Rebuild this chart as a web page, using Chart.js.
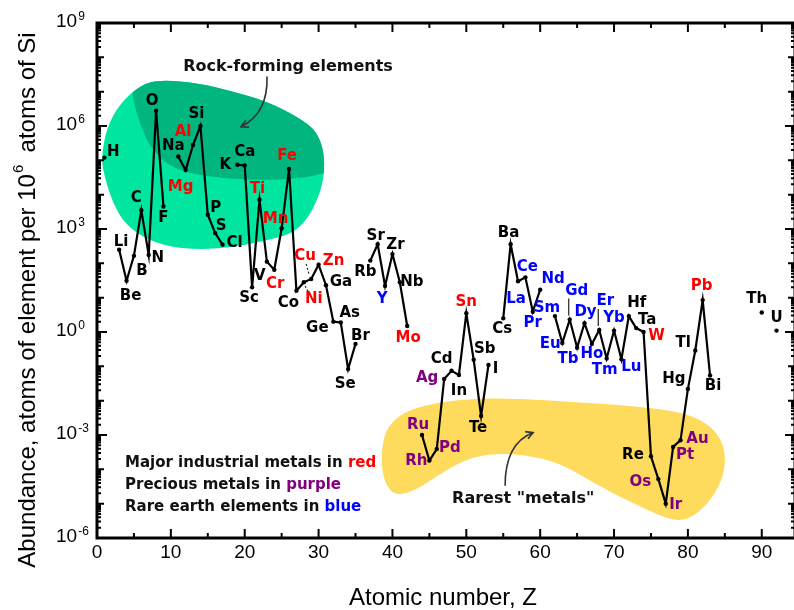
<!DOCTYPE html>
<html>
<head>
<meta charset="utf-8">
<script src="https://cdn.jsdelivr.net/npm/chart.js@4/dist/chart.umd.min.js"></script>
<style>
html, body { margin: 0; padding: 0; background: #fff; overflow: hidden; }
canvas { display: block; }
</style>
</head>
<body>
<canvas id="abundance-chart" width="800" height="610"></canvas>
<script>
// elements Z = 1..92, null = not plotted (noble gases, unstable elements)
const elements = ['H','He','Li','Be','B','C','N','O','F','Ne','Na','Mg','Al','Si','P','S','Cl','Ar','K','Ca',
  'Sc','Ti','V','Cr','Mn','Fe','Co','Ni','Cu','Zn','Ga','Ge','As','Se','Br','Kr','Rb','Sr','Y','Zr',
  'Nb','Mo','Tc','Ru','Rh','Pd','Ag','Cd','In','Sn','Sb','Te','I','Xe','Cs','Ba','La','Ce','Pr','Nd',
  'Pm','Sm','Eu','Gd','Tb','Dy','Ho','Er','Tm','Yb','Lu','Hf','Ta','W','Re','Os','Ir','Pt','Au','Hg',
  'Tl','Pb','Bi','Po','At','Rn','Fr','Ra','Ac','Th','Pa','U'];

// atoms per 10^6 atoms of Si
const abundances = [1.2e5, null, 250, 31, 165, 3500, 175, 2.8e6, 4500, null,
  1.3e5, 5.2e4, 2.8e5, 1.0e6, 2600, 760, 350, null, 7.4e4, 7.1e4,
  20, 7100, 112, 65, 1050, 5.6e4, 16, 28, 35, 91,
  23, 2.0, 1.9, 0.083, 0.45, null, 120, 360, 22, 186,
  28, 1.5, null, 1.0e-3, 1.8e-4, 3.9e-4, 0.043, 0.074, 0.056, 3.5,
  0.155, 0.0036, 0.11, null, 2.5, 360, 30, 39, 3.9, 17,
  null, 2.9, 0.48, 2.3, 0.35, 1.8, 0.45, 1.15, 0.17, 1.1,
  0.16, 2.9, 1.3, 1.0, 2.4e-4, 5.2e-5, 1.0e-5, 4.5e-4, 7.0e-4, 0.022,
  0.29, 8.5, 0.054, null, null, null, null, null, null, 3.7,
  null, 1.1];

const industrialMetals = ['Mg','Al','Ti','Cr','Mn','Fe','Ni','Cu','Zn','Mo','Sn','W','Pb'];
const preciousMetals = ['Ru','Rh','Pd','Ag','Os','Ir','Pt','Au'];
const rareEarths = ['Y','La','Ce','Pr','Nd','Sm','Eu','Gd','Tb','Dy','Ho','Er','Tm','Yb','Lu'];

const xTicks = [0, 10, 20, 30, 40, 50, 60, 70, 80, 90];
const yTickExponents = [-6, -3, 0, 3, 6, 9];

const COLORS = { black: '#000000', red: '#ff0000', purple: '#800080', blue: '#0000ff' };
const LABEL_FONT = 'bold 15px "DejaVu Sans"';
const AXIS_FONT = '"Liberation Sans", Arial, sans-serif';

// label position relative to the point, px
const labelOffsets = {
  H:[9,-6], Li:[2,-8], Be:[4,15], B:[8,15], C:[-5,-12], N:[9,3], O:[-4,-10], F:[0,12],
  Na:[-5,-10], Mg:[-5,17], Al:[-10,-13], Si:[-4,-12], P:[8,-7], S:[6,-7], Cl:[12,-2],
  K:[-12,0], Ca:[0,-13], Sc:[-3,11], Ti:[-2,-11], V:[-7,14], Cr:[1,14], Mn:[-6,-9], Fe:[-2,-13],
  Co:[-8,12], Ni:[10,17], Cu:[-6,-23], Zn:[15,-4], Ga:[15,-3], Ge:[-16,6], As:[9,-9], Se:[-3,15], Br:[5,-8],
  Rb:[-5,11], Sr:[-2,-8], Y:[-3,13], Zr:[3,-9], Nb:[12,0], Mo:[1,12],
  Ru:[-4,-10], Rh:[-13,1], Pd:[13,-1], Ag:[-17,-1], Cd:[-10,-12], In:[0,16], Sn:[0,-11], Sb:[11,-11],
  Te:[-3,12], I:[7,4], Cs:[-1,11], Ba:[-2,-11], La:[-2,18], Ce:[2,-10], Pr:[0,11], Nd:[13,-11],
  Sm:[-8,-8], Eu:[-12,1], Gd:[7,-28], Tb:[-9,11], Dy:[1,-11], Ho:[0,10], Er:[6,-29], Tm:[-2,12],
  Yb:[0,-12], Lu:[10,8], Hf:[8,-13], Ta:[11,-8], W:[13,4], Re:[-18,-1], Os:[-18,3], Ir:[10,1],
  Pt:[12,8], Au:[17,-1], Hg:[-14,-10], Tl:[-12,-7], Pb:[-1,-14], Bi:[3,11], Th:[-5,-13], U:[0,-12]
};
// little leader lines [x1,y1,x2,y2,dashed] relative to the point
const leaders = { Gd:[-1,-21,-1,-4,false], Er:[-1,-21,-1,-4,false], Cu:[-5,-15,-2,-4,true], Ni:[4,9,1,3,true] };

// shaded regions, [Z, log10 abundance]
const rockLight = [[0.54,5.05],[1.08,4.47],[2.17,3.74],[3.79,3.15],[6.5,2.72],[9.89,2.48],[13.95,2.4],
  [18.69,2.48],[24.1,2.72],[26.81,2.92],[28.84,3.39],[30.6,4.26],[30.87,5.14],[29.79,5.84],[27.49,6.22],
  [23.02,6.72],[18.42,7.0],[13.95,7.24],[8.53,7.35],[5.82,7.18],[3.11,6.65],[1.35,5.98]];
const rockDark = [[4.47,8.2],[4.6,7.4],[4.87,6.8],[5.82,6.01],[7.58,5.25],[10.29,4.76],[14.9,4.52],
  [22.07,4.41],[27.49,4.48],[30.47,4.6],[33,4.76],[34,8.2]];
const rarestZone = [[38.73,-3.11],[39.67,-2.67],[41.7,-2.32],[45.09,-2.09],[50.51,-1.94],[57.28,-1.94],
  [64.05,-2.03],[72.17,-2.15],[78.94,-2.32],[82.33,-2.61],[84.36,-3.05],[85.17,-3.63],[84.63,-4.33],
  [82.74,-5.0],[80.3,-5.44],[77.86,-5.5],[73.53,-5.09],[68.11,-4.51],[62.69,-3.81],[57.28,-3.55],
  [52.81,-3.55],[49.56,-3.75],[46.04,-4.19],[43.06,-4.62],[40.35,-4.77],[39.0,-4.42],[38.46,-3.84]];

const points = elements.map((sym, i) => ({ x: i + 1, y: abundances[i] }));

function labelColor(sym) {
  if (industrialMetals.includes(sym)) return COLORS.red;
  if (preciousMetals.includes(sym)) return COLORS.purple;
  if (rareEarths.includes(sym)) return COLORS.blue;
  return COLORS.black;
}

function smoothPath(ctx, pts) {
  const n = pts.length;
  const mid = (a, b) => [(a[0] + b[0]) / 2, (a[1] + b[1]) / 2];
  let m = mid(pts[n - 1], pts[0]);
  ctx.moveTo(m[0], m[1]);
  for (let i = 0; i < n; i++) {
    const next = mid(pts[i], pts[(i + 1) % n]);
    ctx.quadraticCurveTo(pts[i][0], pts[i][1], next[0], next[1]);
  }
  ctx.closePath();
}

function curvedArrow(ctx, p0, c, p1) {
  ctx.save();
  ctx.strokeStyle = '#333';
  ctx.lineWidth = 1.6;
  ctx.beginPath();
  ctx.moveTo(p0[0], p0[1]);
  ctx.quadraticCurveTo(c[0], c[1], p1[0], p1[1]);
  ctx.stroke();
  const ang = Math.atan2(p1[1] - c[1], p1[0] - c[0]);
  ctx.beginPath();
  ctx.moveTo(p1[0] - 8 * Math.cos(ang - 0.5), p1[1] - 8 * Math.sin(ang - 0.5));
  ctx.lineTo(p1[0], p1[1]);
  ctx.lineTo(p1[0] - 8 * Math.cos(ang + 0.5), p1[1] - 8 * Math.sin(ang + 0.5));
  ctx.stroke();
  ctx.restore();
}

function coloredLine(ctx, parts, x, y) {
  parts.forEach(([txt, col]) => {
    ctx.fillStyle = col;
    ctx.fillText(txt, x, y);
    x += ctx.measureText(txt).width;
  });
}

const decor = {
  id: 'decor',
  beforeDatasetsDraw(chart) {
    const { ctx, scales: { x, y } } = chart;
    const px = ([z, lg]) => [x.getPixelForValue(z), y.getPixelForValue(Math.pow(10, lg))];
    ctx.save();
    ctx.beginPath();
    smoothPath(ctx, rockLight.map(px));
    ctx.fillStyle = '#00e6a0';
    ctx.fill();
    ctx.clip();
    ctx.beginPath();
    smoothPath(ctx, rockDark.map(px));
    ctx.fillStyle = '#00b67e';
    ctx.fill();
    ctx.restore();

    ctx.save();
    ctx.beginPath();
    smoothPath(ctx, rarestZone.map(px));
    ctx.fillStyle = '#fedb5c';
    ctx.fill();
    ctx.restore();
  },
  afterDatasetsDraw(chart) {
    const { ctx, chartArea: a, scales: { x, y } } = chart;
    const px = (z, lg) => [x.getPixelForValue(z), y.getPixelForValue(Math.pow(10, lg))];
    ctx.save();

    // element labels
    ctx.font = LABEL_FONT;
    ctx.textAlign = 'center';
    ctx.textBaseline = 'middle';
    elements.forEach((sym, i) => {
      if (abundances[i] === null) return;
      const cx = x.getPixelForValue(i + 1);
      const cy = y.getPixelForValue(abundances[i]);
      const off = labelOffsets[sym] || [0, -12];
      ctx.fillStyle = labelColor(sym);
      ctx.fillText(sym, cx + off[0], cy + off[1]);
      const ld = leaders[sym];
      if (ld) {
        ctx.save();
        ctx.strokeStyle = '#222';
        ctx.lineWidth = 1.2;
        if (ld[4]) ctx.setLineDash([2, 2]);
        ctx.beginPath();
        ctx.moveTo(cx + ld[0], cy + ld[1]);
        ctx.lineTo(cx + ld[2], cy + ld[3]);
        ctx.stroke();
        ctx.restore();
      }
    });

    // annotations
    ctx.font = 'bold 16px "DejaVu Sans"';
    ctx.fillStyle = '#111';
    let t = px(25.86, 7.73);
    ctx.fillText('Rock-forming elements', t[0], t[1]);
    curvedArrow(ctx, px(23.02, 7.44), px(23.16, 6.36), px(19.5, 5.98));
    t = px(57.7, -4.86);
    ctx.fillText('Rarest "metals"', t[0], t[1]);
    curvedArrow(ctx, px(55.25, -4.48), px(55.25, -3.25), px(59.04, -2.93));

    // colour key
    ctx.font = 'bold 15px "DejaVu Sans"';
    ctx.textAlign = 'left';
    coloredLine(ctx, [['Major industrial metals in ', '#111'], ['red', COLORS.red]], 125, 463);
    coloredLine(ctx, [['Precious metals in ', '#111'], ['purple', COLORS.purple]], 125, 485);
    coloredLine(ctx, [['Rare earth elements in ', '#111'], ['blue', COLORS.blue]], 125, 507);
    ctx.restore();
  },
  afterDraw(chart) {
    const { ctx, chartArea: a, scales: { x, y } } = chart;
    ctx.save();
    ctx.strokeStyle = '#000';
    ctx.lineCap = 'butt';

    // y ticks, both sides
    ctx.lineWidth = 2;
    ctx.beginPath();
    for (let e = -6; e <= 9; e++) {
      const yy = y.getPixelForValue(Math.pow(10, e));
      const len = e % 3 === 0 ? 10 : 7;
      ctx.moveTo(a.left, yy); ctx.lineTo(a.left + len, yy);
      ctx.moveTo(a.right, yy); ctx.lineTo(a.right - len, yy);
      if (e < 9) {
        for (let m = 2; m <= 9; m++) {
          const ym = y.getPixelForValue(m * Math.pow(10, e));
          ctx.moveTo(a.left, ym); ctx.lineTo(a.left + 4, ym);
          ctx.moveTo(a.right, ym); ctx.lineTo(a.right - 4, ym);
        }
      }
    }
    // x ticks, both sides
    for (let v = 0; v <= 90; v += 5) {
      const xx = x.getPixelForValue(v);
      const len = v % 10 === 0 ? 9 : 5;
      ctx.moveTo(xx, a.bottom); ctx.lineTo(xx, a.bottom - len);
      ctx.moveTo(xx, a.top); ctx.lineTo(xx, a.top + len);
    }
    ctx.stroke();

    // frame
    ctx.lineWidth = 3;
    ctx.strokeRect(a.left, a.top, a.right - a.left, a.bottom - a.top);

    // tick labels
    ctx.fillStyle = '#000';
    ctx.font = '19px ' + AXIS_FONT;
    ctx.textAlign = 'center';
    ctx.textBaseline = 'middle';
    xTicks.forEach(v => ctx.fillText(String(v), x.getPixelForValue(v), 553));

    yTickExponents.forEach(e => {
      const yy = y.getPixelForValue(Math.pow(10, e));
      ctx.font = '19px ' + AXIS_FONT;
      ctx.textAlign = 'left';
      ctx.textBaseline = 'middle';
      ctx.fillText('10', 56, yy - 1);
      const w = ctx.measureText('10').width;
      ctx.font = '12px ' + AXIS_FONT;
      ctx.textBaseline = 'top';
      ctx.fillText(String(e), 56 + w + 1, yy - 12);
    });

    // axis titles
    ctx.font = '24px ' + AXIS_FONT;
    ctx.textAlign = 'center';
    ctx.textBaseline = 'middle';
    ctx.fillText('Atomic number, Z', (a.left + a.right) / 2 - 3, 598);

    ctx.save();
    ctx.translate(28, 300);
    ctx.rotate(-Math.PI / 2);
    ctx.textAlign = 'left';
    const partA = 'Abundance, atoms of element per 10';
    const partB = '6';
    const partC = '  atoms of Si';
    ctx.font = '24px ' + AXIS_FONT;
    const wA = ctx.measureText(partA).width;
    const wC = ctx.measureText(partC).width;
    ctx.font = '15px ' + AXIS_FONT;
    const wB = ctx.measureText(partB).width;
    let sx = -(wA + wB + wC) / 2;
    ctx.font = '24px ' + AXIS_FONT;
    ctx.fillText(partA, sx, 0);
    ctx.font = '15px ' + AXIS_FONT;
    ctx.fillText(partB, sx + wA + 1, -9);
    ctx.font = '24px ' + AXIS_FONT;
    ctx.fillText(partC, sx + wA + wB, 0);
    ctx.restore();

    ctx.restore();
  }
};

new Chart(document.getElementById('abundance-chart'), {
  type: 'line',
  data: {
    datasets: [{
      data: points,
      borderColor: '#000',
      borderWidth: 2.2,
      pointRadius: 2.2,
      pointBackgroundColor: '#000',
      pointBorderWidth: 0,
      spanGaps: false,
      tension: 0
    }]
  },
  options: {
    responsive: false,
    animation: false,
    devicePixelRatio: 1,
    layout: { padding: { left: 97, top: 23, right: 5, bottom: 72 } },
    plugins: { legend: { display: false }, tooltip: { enabled: false } },
    scales: {
      x: { type: 'linear', min: 0, max: 94.5, display: false },
      y: { type: 'logarithmic', min: 1e-6, max: 1e9, display: false }
    }
  },
  plugins: [decor]
});
</script>
</body>
</html>
